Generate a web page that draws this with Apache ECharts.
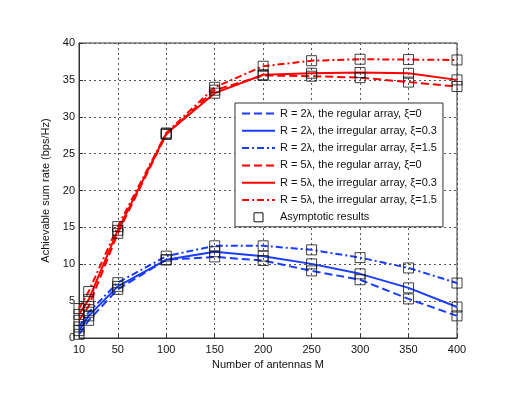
<!DOCTYPE html>
<html>
<head>
<meta charset="utf-8">
<script src="https://cdn.jsdelivr.net/npm/echarts@6/dist/echarts.min.js"></script>
<style>
  html, body { margin: 0; padding: 0; background: #fff; }
  #chart { width: 518px; height: 397px; }
</style>
</head>
<body>
<div id="chart"></div>
<script>
// number of antennas M
const antennas = [10, 20, 50, 100, 150, 200, 250, 300, 350, 400]
const xTicks = [10, 50, 100, 150, 200, 250, 300, 350, 400]

// R = 2 lambda
const r2Regular = [0.5, 2.4, 6.6, 10.6, 11.0, 10.5, 9.1, 7.9, 5.3, 3.0]
const r2Irr03 = [1.0, 3.0, 7.0, 10.6, 11.7, 11.1, 10.05, 8.7, 6.8, 4.2]
const r2Irr15 = [1.5, 3.5, 7.5, 11.1, 12.5, 12.5, 11.95, 10.9, 9.5, 7.45]
// R = 5 lambda
const r5Regular = [2.4, 4.3, 14.2, 27.6, 33.6, 35.6, 35.5, 35.3, 34.7, 34.1]
const r5Irr03 = [3.2, 5.2, 14.6, 27.7, 33.2, 35.7, 35.9, 36.0, 35.9, 35.0]
const r5Irr15 = [4.0, 6.3, 15.1, 27.8, 34.0, 36.85, 37.6, 37.8, 37.75, 37.7]

const names = [
  'R = 2λ, the regular array, ξ=0',
  'R = 2λ, the irregular array, ξ=0.3',
  'R = 2λ, the irregular array, ξ=1.5',
  'R = 5λ, the regular array, ξ=0',
  'R = 5λ, the irregular array, ξ=0.3',
  'R = 5λ, the irregular array, ξ=1.5'
]
const curves = [r2Regular, r2Irr03, r2Irr15, r5Regular, r5Irr03, r5Irr15]
const colors = ['#1a3cff', '#1a3cff', '#1a3cff', '#ff0000', '#ff0000', '#ff0000']
const dashes = ['dashed', 'solid', [7, 3, 2, 3], 'dashed', 'solid', [7, 3, 2, 3]]

const myChart = echarts.init(document.getElementById('chart'))

const series = curves.map((vals, i) => ({
  name: names[i],
  type: 'line',
  data: vals.map((v, k) => [antennas[k], v]),
  showSymbol: false,
  symbol: 'none',
  lineStyle: { color: colors[i], width: 2, type: dashes[i] },
  itemStyle: { color: colors[i] },
  z: 3
}))

// asymptotic markers on every curve
const asym = []
curves.forEach(vals => {
  vals.forEach((v, k) => asym.push([antennas[k], v]))
})
series.push({
  name: 'Asymptotic results',
  type: 'scatter',
  data: asym,
  symbol: 'rect',
  symbolSize: 10,
  itemStyle: { color: 'rgba(0,0,0,0)', borderColor: '#111', borderWidth: 1 },
  z: 4
})

const gridLine = { show: true, lineStyle: { color: '#555', type: [2, 3], width: 1 } }

// legend: plain line for curves (hide the dot), small empty square for markers
const legendData = names.map(n => ({ name: n, itemStyle: { opacity: 0 } }))
legendData.push({
  name: 'Asymptotic results',
  icon: 'path://M0,0H10V10H0Z',
  itemStyle: { opacity: 1, color: 'rgba(0,0,0,0)', borderColor: '#111', borderWidth: 1 }
})

const option = {
  animation: false,
  textStyle: { fontFamily: 'Liberation Sans, Arial, sans-serif' },
  grid: {
    left: 79, right: 61, top: 43, bottom: 59,
    show: true, borderColor: '#333', borderWidth: 1, backgroundColor: 'transparent'
  },
  legend: {
    orient: 'vertical',
    left: 235,
    top: 103,
    padding: [4, 6, 3, 6],
    itemGap: 4.3,
    itemWidth: 33,
    itemHeight: 9,
    backgroundColor: '#fff',
    borderColor: '#333',
    borderWidth: 1,
    borderRadius: 0,
    textStyle: { fontSize: 11, color: '#111', lineHeight: 13 },
    data: legendData
  },
  xAxis: {
    type: 'value',
    min: 10,
    max: 400,
    name: 'Number of antennas M',
    nameLocation: 'middle',
    nameGap: 18,
    nameTextStyle: { fontSize: 11, color: '#111' },
    axisLine: { show: true, lineStyle: { color: '#333' } },
    axisTick: { show: true, inside: true, length: 4, customValues: xTicks, lineStyle: { color: '#333' } },
    axisLabel: { customValues: xTicks, fontSize: 11, color: '#111', margin: 6 },
    splitLine: gridLine
  },
  yAxis: {
    type: 'value',
    min: 0,
    max: 40,
    interval: 5,
    name: 'Achievable sum rate (bps/Hz)',
    nameLocation: 'middle',
    nameGap: 14,
    nameTextStyle: { fontSize: 11, color: '#111' },
    axisLine: { show: true, lineStyle: { color: '#333' } },
    axisTick: { show: true, inside: true, length: 4, lineStyle: { color: '#333' } },
    axisLabel: { fontSize: 11, color: '#111', margin: 4 },
    splitLine: gridLine
  },
  series
}

myChart.setOption(option)
</script>
</body>
</html>
